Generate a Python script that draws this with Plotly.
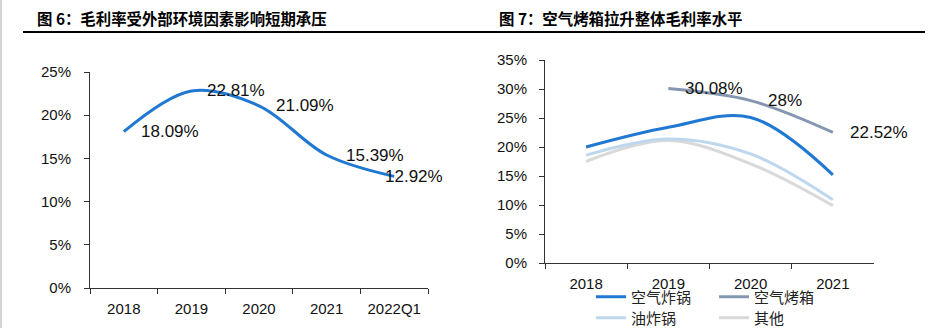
import plotly.graph_objects as go

W, H = 938, 328

# ---- left panel: overall gross margin ----
left_title = "图 6：毛利率受外部环境因素影响短期承压"
left_periods = ["2018", "2019", "2020", "2021", "2022Q1"]
left_margin = [18.09, 22.81, 21.09, 15.39, 12.92]
left_label_dx = [15, 14, 15, 17, -11]

# ---- right panel: margin by product line ----
right_title = "图 7：空气烤箱拉升整体毛利率水平"
right_years = ["2018", "2019", "2020", "2021"]
air_fryer = [20.0, 23.4, 25.1, 15.2]
air_oven = [None, 30.08, 28.0, 22.52]
oil_fryer = [18.6, 21.4, 18.8, 10.9]
others = [17.5, 21.1, 17.1, 9.9]
oven_labels = [None, "30.08%", "28%", "22.52%"]

BLUE = "#1f78d2"
GREYBLUE = "#8597b0"
LIGHTBLUE = "#bdd7ee"
LIGHTGREY = "#d9d9d9"

TICK_FONT = dict(family="Liberation Sans, Arial, sans-serif", size=15, color="#111111")
LABEL_FONT = dict(family="Liberation Sans, Arial, sans-serif", size=17, color="#111111")
CJK = "Noto Sans CJK SC"


def px_x(x):
    return x / W


def px_y(y):
    return (H - y) / H


fig = go.Figure()

fig.add_trace(go.Scatter(
    x=left_periods, y=left_margin, mode="lines",
    line=dict(color=BLUE, width=3, shape="spline", smoothing=1),
    xaxis="x", yaxis="y", showlegend=False, hoverinfo="skip",
))

series = [
    ("空气炸锅", air_fryer, BLUE, "legend"),
    ("空气烤箱", air_oven, GREYBLUE, "legend"),
    ("油炸锅", oil_fryer, LIGHTBLUE, "legend2"),
    ("其他", others, LIGHTGREY, "legend2"),
]
# draw the pale lines first so the darker ones sit on top
for name, vals, color, lg in [series[3], series[2], series[1], series[0]]:
    fig.add_trace(go.Scatter(
        x=right_years, y=vals, mode="lines", name=name,
        line=dict(color=color, width=3, shape="spline", smoothing=1),
        xaxis="x2", yaxis="y2", legend=lg, hoverinfo="skip",
    ))

# value labels; category axes are addressed by category index
annotations = []
for i, (v, dx) in enumerate(zip(left_margin, left_label_dx)):
    annotations.append(dict(
        x=i, y=v, xref="x", yref="y", text=f"{v:.2f}%", showarrow=False,
        xanchor="left", yanchor="middle", xshift=dx, font=LABEL_FONT,
    ))
for i, (v, txt) in enumerate(zip(air_oven, oven_labels)):
    if v is None:
        continue
    annotations.append(dict(
        x=i, y=v, xref="x2", yref="y2", text=txt, showarrow=False,
        xanchor="left", yanchor="middle", xshift=15, font=LABEL_FONT,
    ))

title_font = dict(family=CJK, size=15.4, color="#000000", weight="bold")
annotations.append(dict(x=px_x(35), y=px_y(18), xref="paper", yref="paper",
                        text=left_title, showarrow=False, xanchor="left",
                        yanchor="middle", font=title_font))
annotations.append(dict(x=px_x(497), y=px_y(18), xref="paper", yref="paper",
                        text=right_title, showarrow=False, xanchor="left",
                        yanchor="middle", font=title_font))

shapes = [
    dict(type="line", xref="paper", yref="paper", x0=px_x(23), x1=px_x(925),
         y0=px_y(32), y1=px_y(32), line=dict(color="#000000", width=2)),
    dict(type="line", xref="paper", yref="paper", x0=px_x(1), x1=px_x(1),
         y0=0, y1=1, line=dict(color="#d4d4d4", width=2)),
]

axis_common = dict(showgrid=False, zeroline=False, showline=True,
                   linecolor="#333333", linewidth=1, ticks="outside",
                   ticklen=5, tickcolor="#333333", tickfont=TICK_FONT,
                   fixedrange=True)

legend_common = dict(orientation="h", xanchor="left", yanchor="middle",
                     entrywidth=78, entrywidthmode="pixels",
                     traceorder="reversed", bgcolor="rgba(0,0,0,0)",
                     font=dict(family=CJK, size=15, color="#222222"))

fig.update_layout(
    width=W, height=H,
    margin=dict(l=0, r=0, t=0, b=0, autoexpand=False),
    paper_bgcolor="white", plot_bgcolor="white",
    xaxis=dict(domain=[px_x(90), px_x(428)], anchor="y", type="category",
               range=[-0.5, len(left_periods) - 0.5], autorange=False,
               tickangle=0, tickson="boundaries", ticklabelstandoff=7,
               **axis_common),
    yaxis=dict(domain=[px_y(288), px_y(72)], anchor="x", range=[0, 25],
               autorange=False, dtick=5, ticksuffix="%", ticklabelstandoff=10,
               **axis_common),
    xaxis2=dict(domain=[px_x(545), px_x(874)], anchor="y2", type="category",
                range=[-0.5, len(right_years) - 0.5], autorange=False,
                tickangle=0, tickson="boundaries", ticklabelstandoff=7,
                **axis_common),
    yaxis2=dict(domain=[px_y(263), px_y(60)], anchor="x2", range=[0, 35],
                autorange=False, dtick=5, ticksuffix="%", ticklabelstandoff=9,
                **axis_common),
    legend=dict(x=px_x(591), y=px_y(297), **legend_common),
    legend2=dict(x=px_x(591), y=px_y(318), **legend_common),
    annotations=annotations,
    shapes=shapes,
)

fig.write_html("out.html")
